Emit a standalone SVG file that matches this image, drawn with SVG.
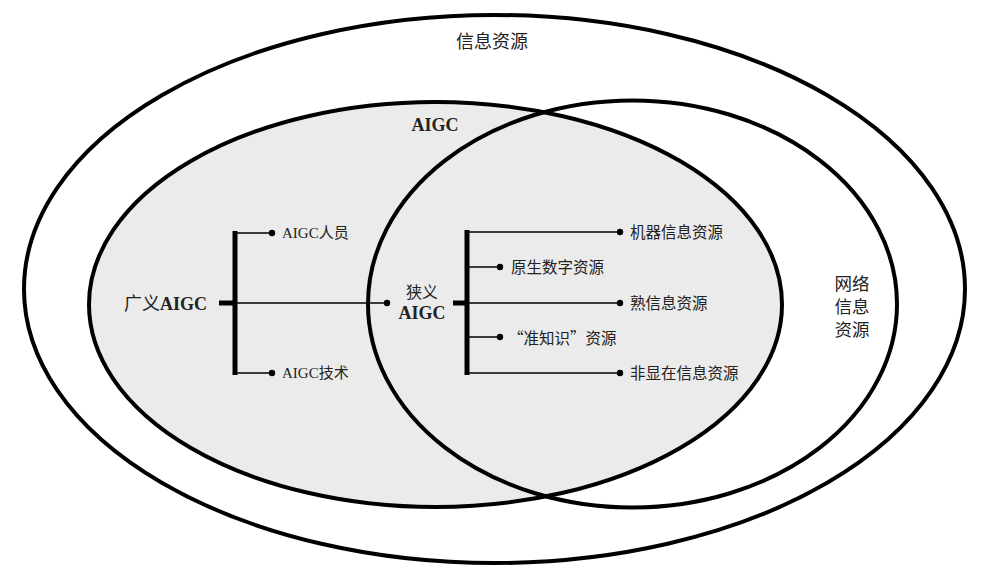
<svg xmlns="http://www.w3.org/2000/svg" width="996" height="584" viewBox="0 0 996 584">
<style>
.ring{stroke:#000;stroke-width:4}
.t{font-family:"Liberation Serif","Noto Sans CJK SC",serif;fill:#222;dominant-baseline:central}
.cjk{font-family:"Noto Sans CJK SC","Liberation Serif",serif}
.b{font-weight:bold}
.thin{stroke:#000;stroke-width:1.6;fill:none}
.thick{stroke:#000;stroke-width:5;fill:none}
.dot{fill:#000}
</style>
<rect width="996" height="584" fill="#fff"/>
<g id="info-resources">
<ellipse cx="494.5" cy="289" rx="470.5" ry="274" fill="#fff" class="ring"/>
<text class="t" x="492" y="42" text-anchor="middle" font-size="18">信息资源</text>
</g>
<g id="network-fill"><ellipse cx="632.5" cy="304" rx="264.5" ry="203.5" fill="#fff"/></g>
<g id="aigc">
<ellipse cx="435.5" cy="304.5" rx="346.5" ry="202.5" fill="#ebebeb" class="ring"/>
<text class="t b" x="435" y="125" text-anchor="middle" font-size="18">AIGC</text>
</g>
<g id="network">
<ellipse cx="632.5" cy="304" rx="264.5" ry="203.5" fill="none" class="ring"/>
<text class="t" x="852" y="284" text-anchor="middle" font-size="17.5">网络</text>
<text class="t" x="852" y="307" text-anchor="middle" font-size="17.5">信息</text>
<text class="t" x="852" y="330" text-anchor="middle" font-size="17.5">资源</text>
</g>
<g id="connectors">
<line class="thick" x1="219" y1="303" x2="235" y2="303"/>
<line class="thick" x1="235" y1="231" x2="235" y2="375"/>
<line class="thin" x1="235" y1="233" x2="272" y2="233"/>
<line class="thin" x1="235" y1="373" x2="272" y2="373"/>
<line class="thin" x1="235" y1="303" x2="387" y2="303"/>
<circle class="dot" cx="272" cy="233" r="3.2"/>
<circle class="dot" cx="272" cy="373" r="3.2"/>
<circle class="dot" cx="387" cy="303" r="3.2"/>
<line class="thick" x1="453" y1="303" x2="467" y2="303"/>
<line class="thick" x1="467" y1="230" x2="467" y2="375"/>
<line class="thin" x1="467" y1="232" x2="620" y2="232"/>
<line class="thin" x1="467" y1="267" x2="500" y2="267"/>
<line class="thin" x1="467" y1="303" x2="620" y2="303"/>
<line class="thin" x1="467" y1="337" x2="500" y2="337"/>
<line class="thin" x1="467" y1="373" x2="620" y2="373"/>
<circle class="dot" cx="620" cy="232" r="3.2"/>
<circle class="dot" cx="500" cy="267" r="3.2"/>
<circle class="dot" cx="620" cy="303" r="3.2"/>
<circle class="dot" cx="500" cy="337" r="3.2"/>
<circle class="dot" cx="620" cy="373" r="3.2"/>
</g>
<g id="broad-aigc"><text class="t" x="124" y="304" font-size="18">广义<tspan class="b">AIGC</tspan></text></g>
<g id="narrow-aigc">
<text class="t" x="422" y="292" text-anchor="middle" font-size="16">狭义</text>
<text class="t b" x="422" y="313" text-anchor="middle" font-size="18">AIGC</text>
</g>
<g id="aigc-people"><text class="t" x="282" y="233" font-size="15">AIGC人员</text></g>
<g id="aigc-tech"><text class="t" x="282" y="373" font-size="15">AIGC技术</text></g>
<g id="machine-info"><text class="t" x="630" y="232" font-size="15.5">机器信息资源</text></g>
<g id="born-digital"><text class="t" x="511" y="267" font-size="15.5">原生数字资源</text></g>
<g id="familiar-info"><text class="t" x="630" y="303" font-size="15.5">熟信息资源</text></g>
<g id="quasi-knowledge"><text class="t cjk" x="508" y="337" font-size="15.5">“准知识”资源</text></g>
<g id="non-explicit"><text class="t" x="630" y="373" font-size="15.5">非显在信息资源</text></g>
</svg>
